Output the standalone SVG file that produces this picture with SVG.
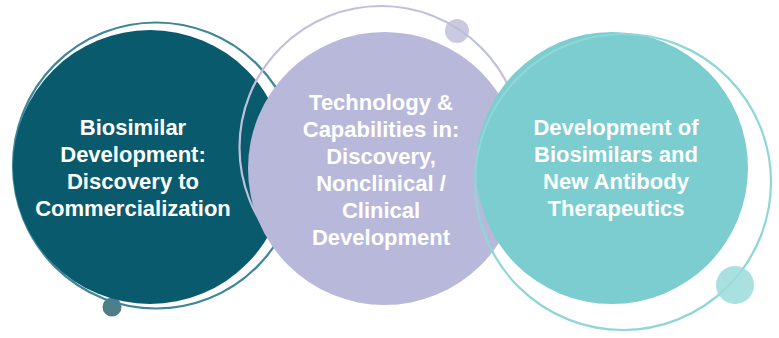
<svg xmlns="http://www.w3.org/2000/svg" width="779" height="338" viewBox="0 0 779 338">
<style>
.lbl{font-family:"Liberation Sans",Arial,Helvetica,sans-serif;font-weight:bold;font-size:22px;fill:#ffffff;text-anchor:middle}
.ring{fill:none;stroke-width:2.2}
</style>
<rect width="779" height="338" fill="#ffffff"/>
<g id="node-left">
<circle cx="112" cy="307" r="9.5" fill="#4f7d88"/>
<circle class="ring" cx="156" cy="165.5" r="143" stroke="#3e8798"/>
<circle cx="150" cy="167" r="137" fill="#0a5a6e"/>
</g>
<g id="node-middle">
<circle class="ring" cx="381" cy="147.5" r="141.5" stroke="#c0c0de"/>
<circle cx="457" cy="31" r="12" fill="#bcbcdb" fill-opacity="0.8"/>
<circle cx="384.5" cy="168.5" r="136.5" fill="#b8b8da"/>
</g>
<g id="node-right">
<circle cx="612" cy="168" r="136" fill="#7bcdd0"/>
<circle class="ring" cx="623" cy="182" r="148" stroke="#8fd6d8"/>
<circle cx="735" cy="285" r="19" fill="#9bdadb" fill-opacity="0.85"/>
</g>
<g id="connectors"></g>
<g id="labels">
<text class="lbl" x="133" y="135">Biosimilar</text>
<text class="lbl" x="133" y="162">Development:</text>
<text class="lbl" x="133" y="189">Discovery to</text>
<text class="lbl" x="133" y="216">Commercialization</text>
<text class="lbl" x="381" y="110">Technology &amp;</text>
<text class="lbl" x="381" y="137">Capabilities in:</text>
<text class="lbl" x="381" y="164">Discovery,</text>
<text class="lbl" x="381" y="191">Nonclinical /</text>
<text class="lbl" x="381" y="218">Clinical</text>
<text class="lbl" x="381" y="245">Development</text>
<text class="lbl" x="616" y="135">Development of</text>
<text class="lbl" x="616" y="162">Biosimilars and</text>
<text class="lbl" x="616" y="189">New Antibody</text>
<text class="lbl" x="616" y="216">Therapeutics</text>
</g>
</svg>
